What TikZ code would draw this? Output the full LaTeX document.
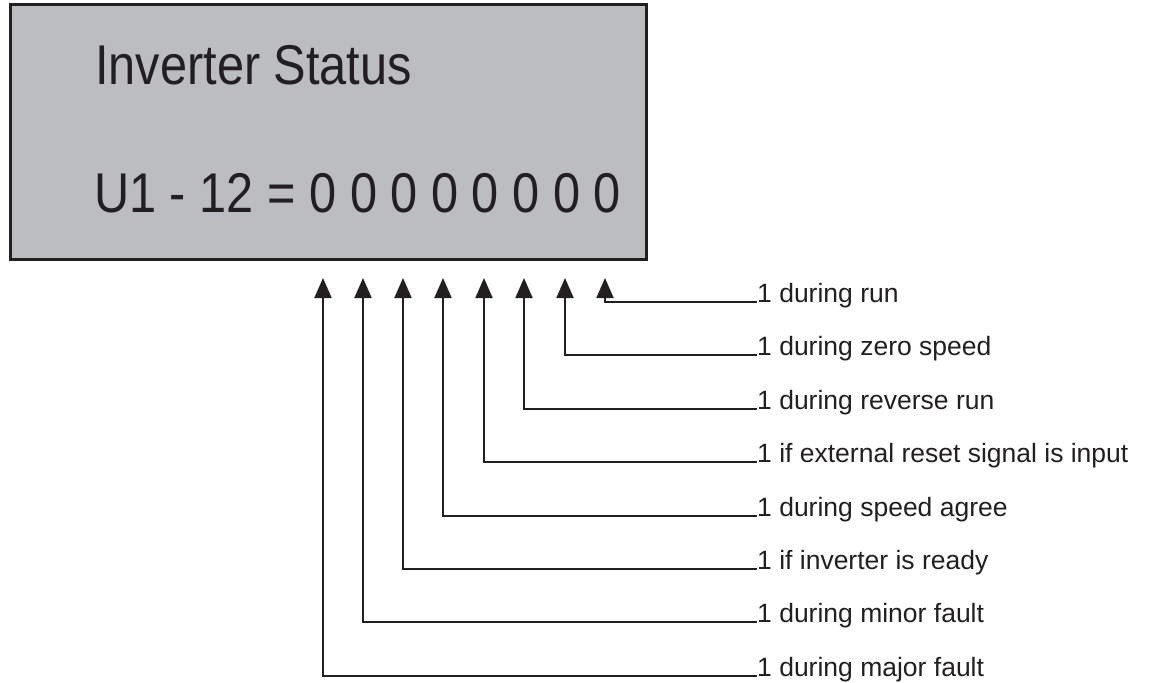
\documentclass[tikz,border=0pt]{standalone}
\usepackage{fontspec}
\setmainfont{Liberation Sans}
\newfontfamily\lcdfont[FakeStretch=0.87]{Liberation Sans}
\usetikzlibrary{arrows.meta}
\definecolor{lcdgray}{HTML}{BCBDC1}
\definecolor{inkdark}{HTML}{231F20}
\tikzset{
  panel/.style={draw=inkdark, fill=lcdgray, line width=3pt, minimum width=636pt, minimum height=255pt, inner sep=0pt},
  lcdtext/.style={anchor=base west, inner sep=0pt, text=inkdark, font=\lcdfont\fontsize{56}{62}\selectfont},
  bitlabel/.style={anchor=base west, inner sep=0pt, text=inkdark, font=\fontsize{26.5}{30}\selectfont},
  bitline/.style={draw=inkdark, line width=2pt}
}
\begin{document}
\begin{tikzpicture}[x=1pt, y=-1pt, ->, >={Triangle[length=20pt, width=17pt]}]
            \useasboundingbox (0,0) rectangle (1152,683);
            % Display panel
            \node[panel] (display) at (328.5,132) {};
            \node[lcdtext] (title) at (95,84) {Inverter Status};
            \node[lcdtext] (value) at (94,212) {U1 - 12 = 0 0 0 0 0 0 0 0};

            % Arrow tips under the digits
            \coordinate (bit7) at (323,278);
            \coordinate (bit6) at (363,278);
            \coordinate (bit5) at (403,278);
            \coordinate (bit4) at (443,278);
            \coordinate (bit3) at (484,278);
            \coordinate (bit2) at (524,278);
            \coordinate (bit1) at (565,278);
            \coordinate (bit0) at (605,278);

            % Bit descriptions
            \node[bitlabel] (run) at (757,302) {1 during run};
            \node[bitlabel] (zero speed) at (757,355) {1 during zero speed};
            \node[bitlabel] (reverse run) at (757,409) {1 during reverse run};
            \node[bitlabel] (reset) at (757,462) {1 if external reset signal is input};
            \node[bitlabel] (speed agree) at (757,516) {1 during speed agree};
            \node[bitlabel] (ready) at (757,569) {1 if inverter is ready};
            \node[bitlabel] (minor fault) at (757,622) {1 during minor fault};
            \node[bitlabel] (major fault) at (757,676) {1 during major fault};

            % Leaders from labels up to the digits
            \draw[bitline] (run.base west) -| (bit0);
            \draw[bitline] (zero speed.base west) -| (bit1);
            \draw[bitline] (reverse run.base west) -| (bit2);
            \draw[bitline] (reset.base west) -| (bit3);
            \draw[bitline] (speed agree.base west) -| (bit4);
            \draw[bitline] (ready.base west) -| (bit5);
            \draw[bitline] (minor fault.base west) -| (bit6);
            \draw[bitline] (major fault.base west) -| (bit7);
        \end{tikzpicture}
\end{document}
